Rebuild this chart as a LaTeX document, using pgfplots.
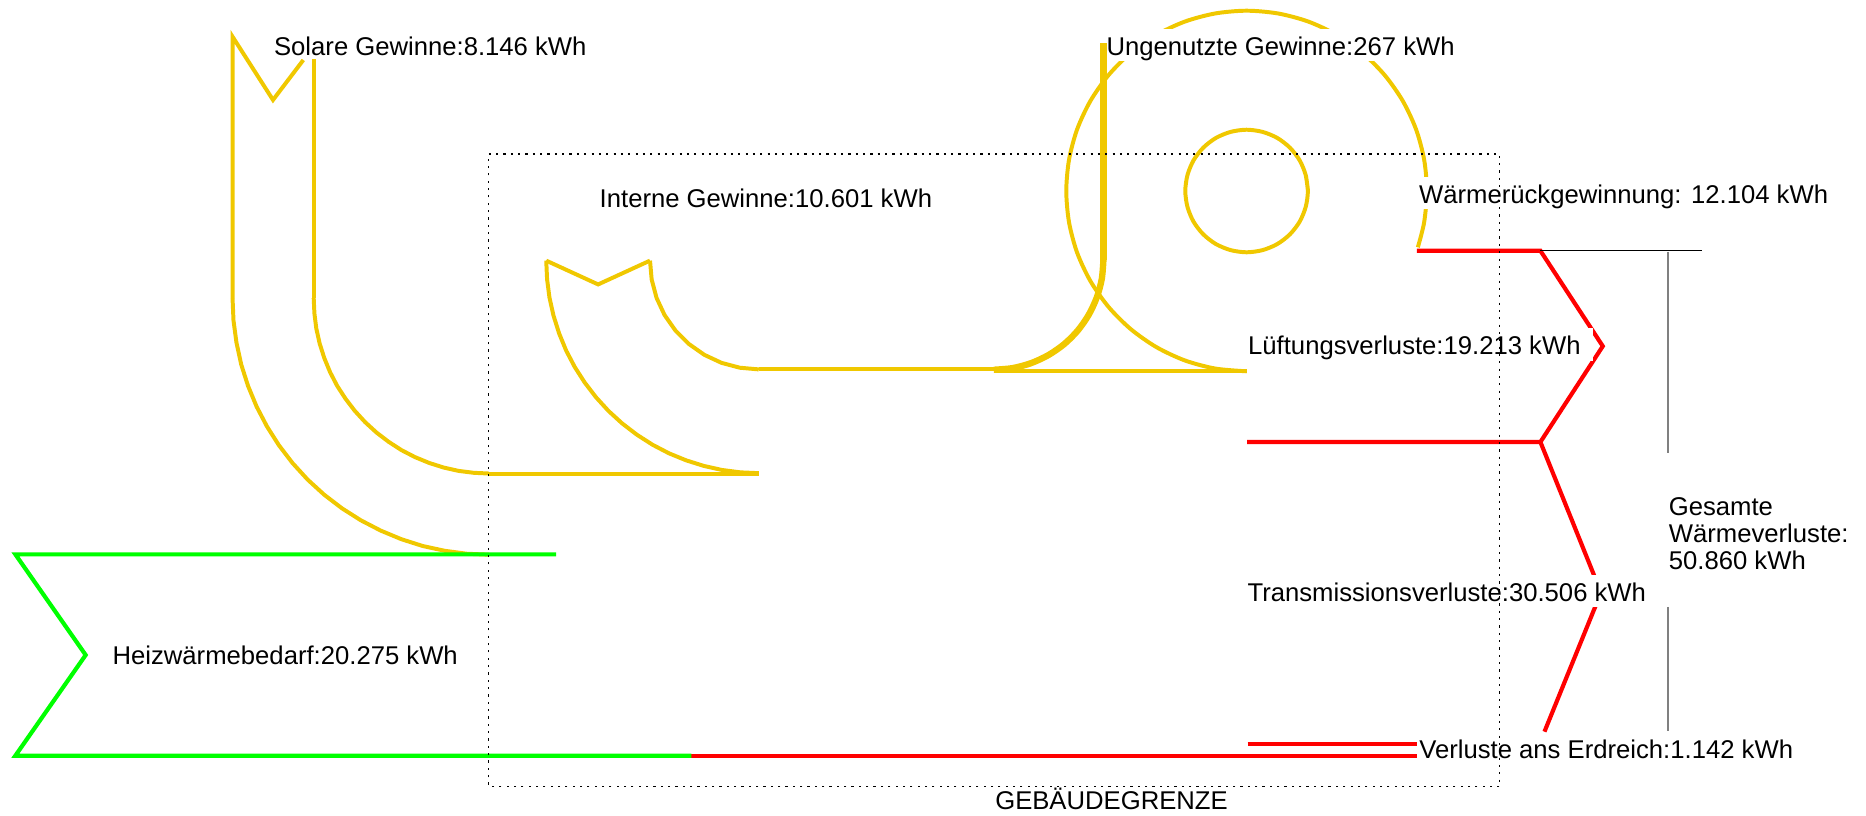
\documentclass[border=0pt]{standalone}
\usepackage{fontspec}
\setmainfont{Liberation Sans}
\usepackage{pgfplots}
\pgfplotsset{compat=1.18}
\definecolor{ycol}{RGB}{240,200,0}
\definecolor{rcol}{RGB}{255,0,0}
\definecolor{gcol}{RGB}{0,255,0}
\begin{document}
\begin{tikzpicture}[
  lab/.style={anchor=base west, inner sep=0pt, font=\fontsize{12.94bp}{15.5bp}\selectfont},
  box/.style={lab, fill=white, text height=13.4bp, text depth=2.8bp}]
\begin{axis}[width=940.8bp, height=411bp, scale only axis,
  xmin=0, xmax=1568, ymin=0, ymax=685, y dir=reverse,
  hide axis, clip=false]
\addplot[draw=none] coordinates {(0,0) (1568,685)};
% --- Solare Gewinne (yellow)
\addplot[ycol, line width=2bp, line join=round] coordinates {(195.4,250.5) (196.2,269.3) (198.7,287.9) (202.7,306.3) (208.4,324.2) (215.6,341.6) (224.3,358.3) (234.4,374.2) (245.8,389.1) (258.5,403.0) (272.4,415.7) (287.3,427.1) (303.2,437.2) (320.0,445.9) (337.3,453.1) (355.2,458.8) (373.6,462.8) (392.2,465.3) (411,466.1)};
\addplot[ycol, line width=2bp, line join=miter] coordinates {(195.4,250.5) (195.4,30.8) (229.4,84) (254.9,50.4)};
\addplot[ycol, line width=2bp] coordinates {(263.7,49.8) (263.7,250.5)};
\addplot[ycol, line width=2bp, line join=round] coordinates {(263.6,250.5) (264.2,263.4) (265.8,276.1) (268.6,288.6) (272.5,300.9) (277.4,312.8) (283.3,324.2) (290.3,335.0) (298.1,345.2) (306.8,354.7) (316.3,363.4) (326.5,371.2) (337.3,378.2) (348.7,384.1) (360.6,389.0) (372.9,392.9) (385.4,395.7) (398.1,397.3) (411,397.9)};
\addplot[ycol, line width=2bp] coordinates {(411,397.9) (637.6,397.9)};
% --- Interne Gewinne
\addplot[ycol, line width=2bp, line join=round] coordinates {(459.0,219.0) (459.7,234.6) (461.7,250.0) (465.1,265.2) (469.8,280.1) (475.7,294.5) (482.9,308.3) (491.3,321.4) (500.8,333.8) (511.3,345.3) (522.8,355.8) (535.2,365.3) (548.3,373.7) (562.1,380.9) (576.5,386.8) (591.4,391.5) (606.6,394.9) (622.0,396.9) (637.6,397.6)};
\addplot[ycol, line width=2bp, line join=miter] coordinates {(459,219) (502.6,239) (546.2,219)};
\addplot[ycol, line width=2bp, line join=round] coordinates {(546.2,219) (547.6,234.9) (551.7,250.3) (558.4,264.7) (567.6,277.8) (578.8,289.0) (591.9,298.2) (606.3,304.9) (621.7,309.0) (637.6,310.4)};
\addplot[ycol, line width=2bp] coordinates {(637.6,310.4) (835,310.4)};
% --- Ungenutzte Gewinne loop
\addplot[ycol, line width=3.2bp, line join=round, smooth] coordinates {(835,310.7) (851.0,309.3) (866.5,305.1) (881.1,298.3) (894.3,289.1) (905.6,277.8) (914.8,264.6) (921.6,250.0) (925.8,234.5) (927.2,218.5)};
\addplot[ycol, line width=3.2bp] coordinates {(927.2,218.5) (927.2,36)};
\addplot[ycol, line width=2bp] coordinates {(835,312) (1047.5,312)};
\addplot[ycol, line width=2bp, line join=round, smooth] coordinates {(1047.5,312.0) (1021.2,309.7) (995.7,302.9) (971.75,291.7) (950.1,276.5) (931.5,257.9) (916.3,236.25) (905.1,212.3) (898.3,186.8) (896.0,160.5) (898.3,134.2) (905.1,108.7) (916.3,84.75) (931.5,63.1) (950.1,44.5) (971.75,29.3) (995.7,18.1) (1021.2,11.3) (1047.5,9.0) (1073.8,11.3) (1099.3,18.1) (1123.25,29.3) (1144.9,44.5) (1163.5,63.1) (1178.7,84.75) (1189.9,108.7) (1196.7,134.2) (1199.0,160.5) (1196.7,186.8) (1191.4,207.8)};
\addplot[ycol, line width=2bp, line join=round, smooth] coordinates {(1099,160.5) (1097.2,147.2) (1092.1,134.75) (1083.9,124.1) (1073.25,115.9) (1060.8,110.8) (1047.5,109) (1034.2,110.8) (1021.75,115.9) (1011.1,124.1) (1002.9,134.75) (997.8,147.2) (996,160.5) (997.8,173.8) (1002.9,186.25) (1011.1,196.9) (1021.75,205.1) (1034.2,210.2) (1047.5,212) (1060.8,210.2) (1073.25,205.1) (1083.9,196.9) (1092.1,186.25) (1097.2,173.8) (1099,160.5) (1097.2,147.2)};
% --- losses (red)
\addplot[rcol, line width=2.1bp, line join=miter] coordinates {(1190.5,210.7) (1294.4,210.7) (1346.8,290.9) (1294.4,371.4) (1048,371.4)};
\addplot[rcol, line width=2.1bp, line join=miter] coordinates {(1294.4,371.4) (1345.3,497.9) (1297.8,614.8)};
\addplot[rcol, line width=2.1bp] coordinates {(581,635) (1190.5,635)};
\addplot[rcol, line width=2.1bp] coordinates {(1048.4,625.2) (1190.5,625.2)};
% --- Heizwaermebedarf (green)
\addplot[gcol, line width=2.1bp, line join=miter] coordinates {(467.3,465.8) (12.9,465.8) (72,550.4) (12.9,635) (581,635)};
% --- total loss bracket
\addplot[black, line width=0.6bp] coordinates {(1294.4,210.7) (1430,210.7)};
\addplot[gray, line width=0.8bp] coordinates {(1401.4,211.5) (1401.4,380.4)};
\addplot[gray, line width=0.8bp] coordinates {(1401.4,510) (1401.4,614.3)};
% --- labels
\node[lab] at (axis cs:230,46.5) {Solare Gewinne:8.146 kWh};
\node[box] at (axis cs:929.5,46.3) {Ungenutzte Gewinne:267 kWh};
\node[lab] at (axis cs:503.6,174.3) {Interne Gewinne:10.601 kWh};
\node[box, inner xsep=1bp] at (axis cs:1190.5,171) {Wärmerückgewinnung: 12.104 kWh};
\node[box, inner xsep=6bp] at (axis cs:1038.5,298.3) {Lüftungsverluste:19.213 kWh};
\node[box, inner xsep=6bp] at (axis cs:1038,505.6) {Transmissionsverluste:30.506 kWh};
\node[lab] at (axis cs:1192.3,637.4) {Verluste ans Erdreich:1.142 kWh};
\node[lab] at (axis cs:94.3,558) {Heizwärmebedarf:20.275 kWh};
\node[lab] at (axis cs:1402,432.8) {Gesamte};
\node[lab] at (axis cs:1402,456) {Wärmeverluste:};
\node[lab] at (axis cs:1402,478.6) {50.860 kWh};
\node[lab] at (axis cs:836,680.3) {GEBÄUDEGRENZE};
% --- building boundary
\addplot[black, line width=0.6bp, dash pattern=on 1.1bp off 2.6bp] coordinates {(410.7,129.4) (1260.2,129.4) (1260.2,661) (410.7,661) (410.7,129.4)};
\end{axis}
\end{tikzpicture}
\end{document}
